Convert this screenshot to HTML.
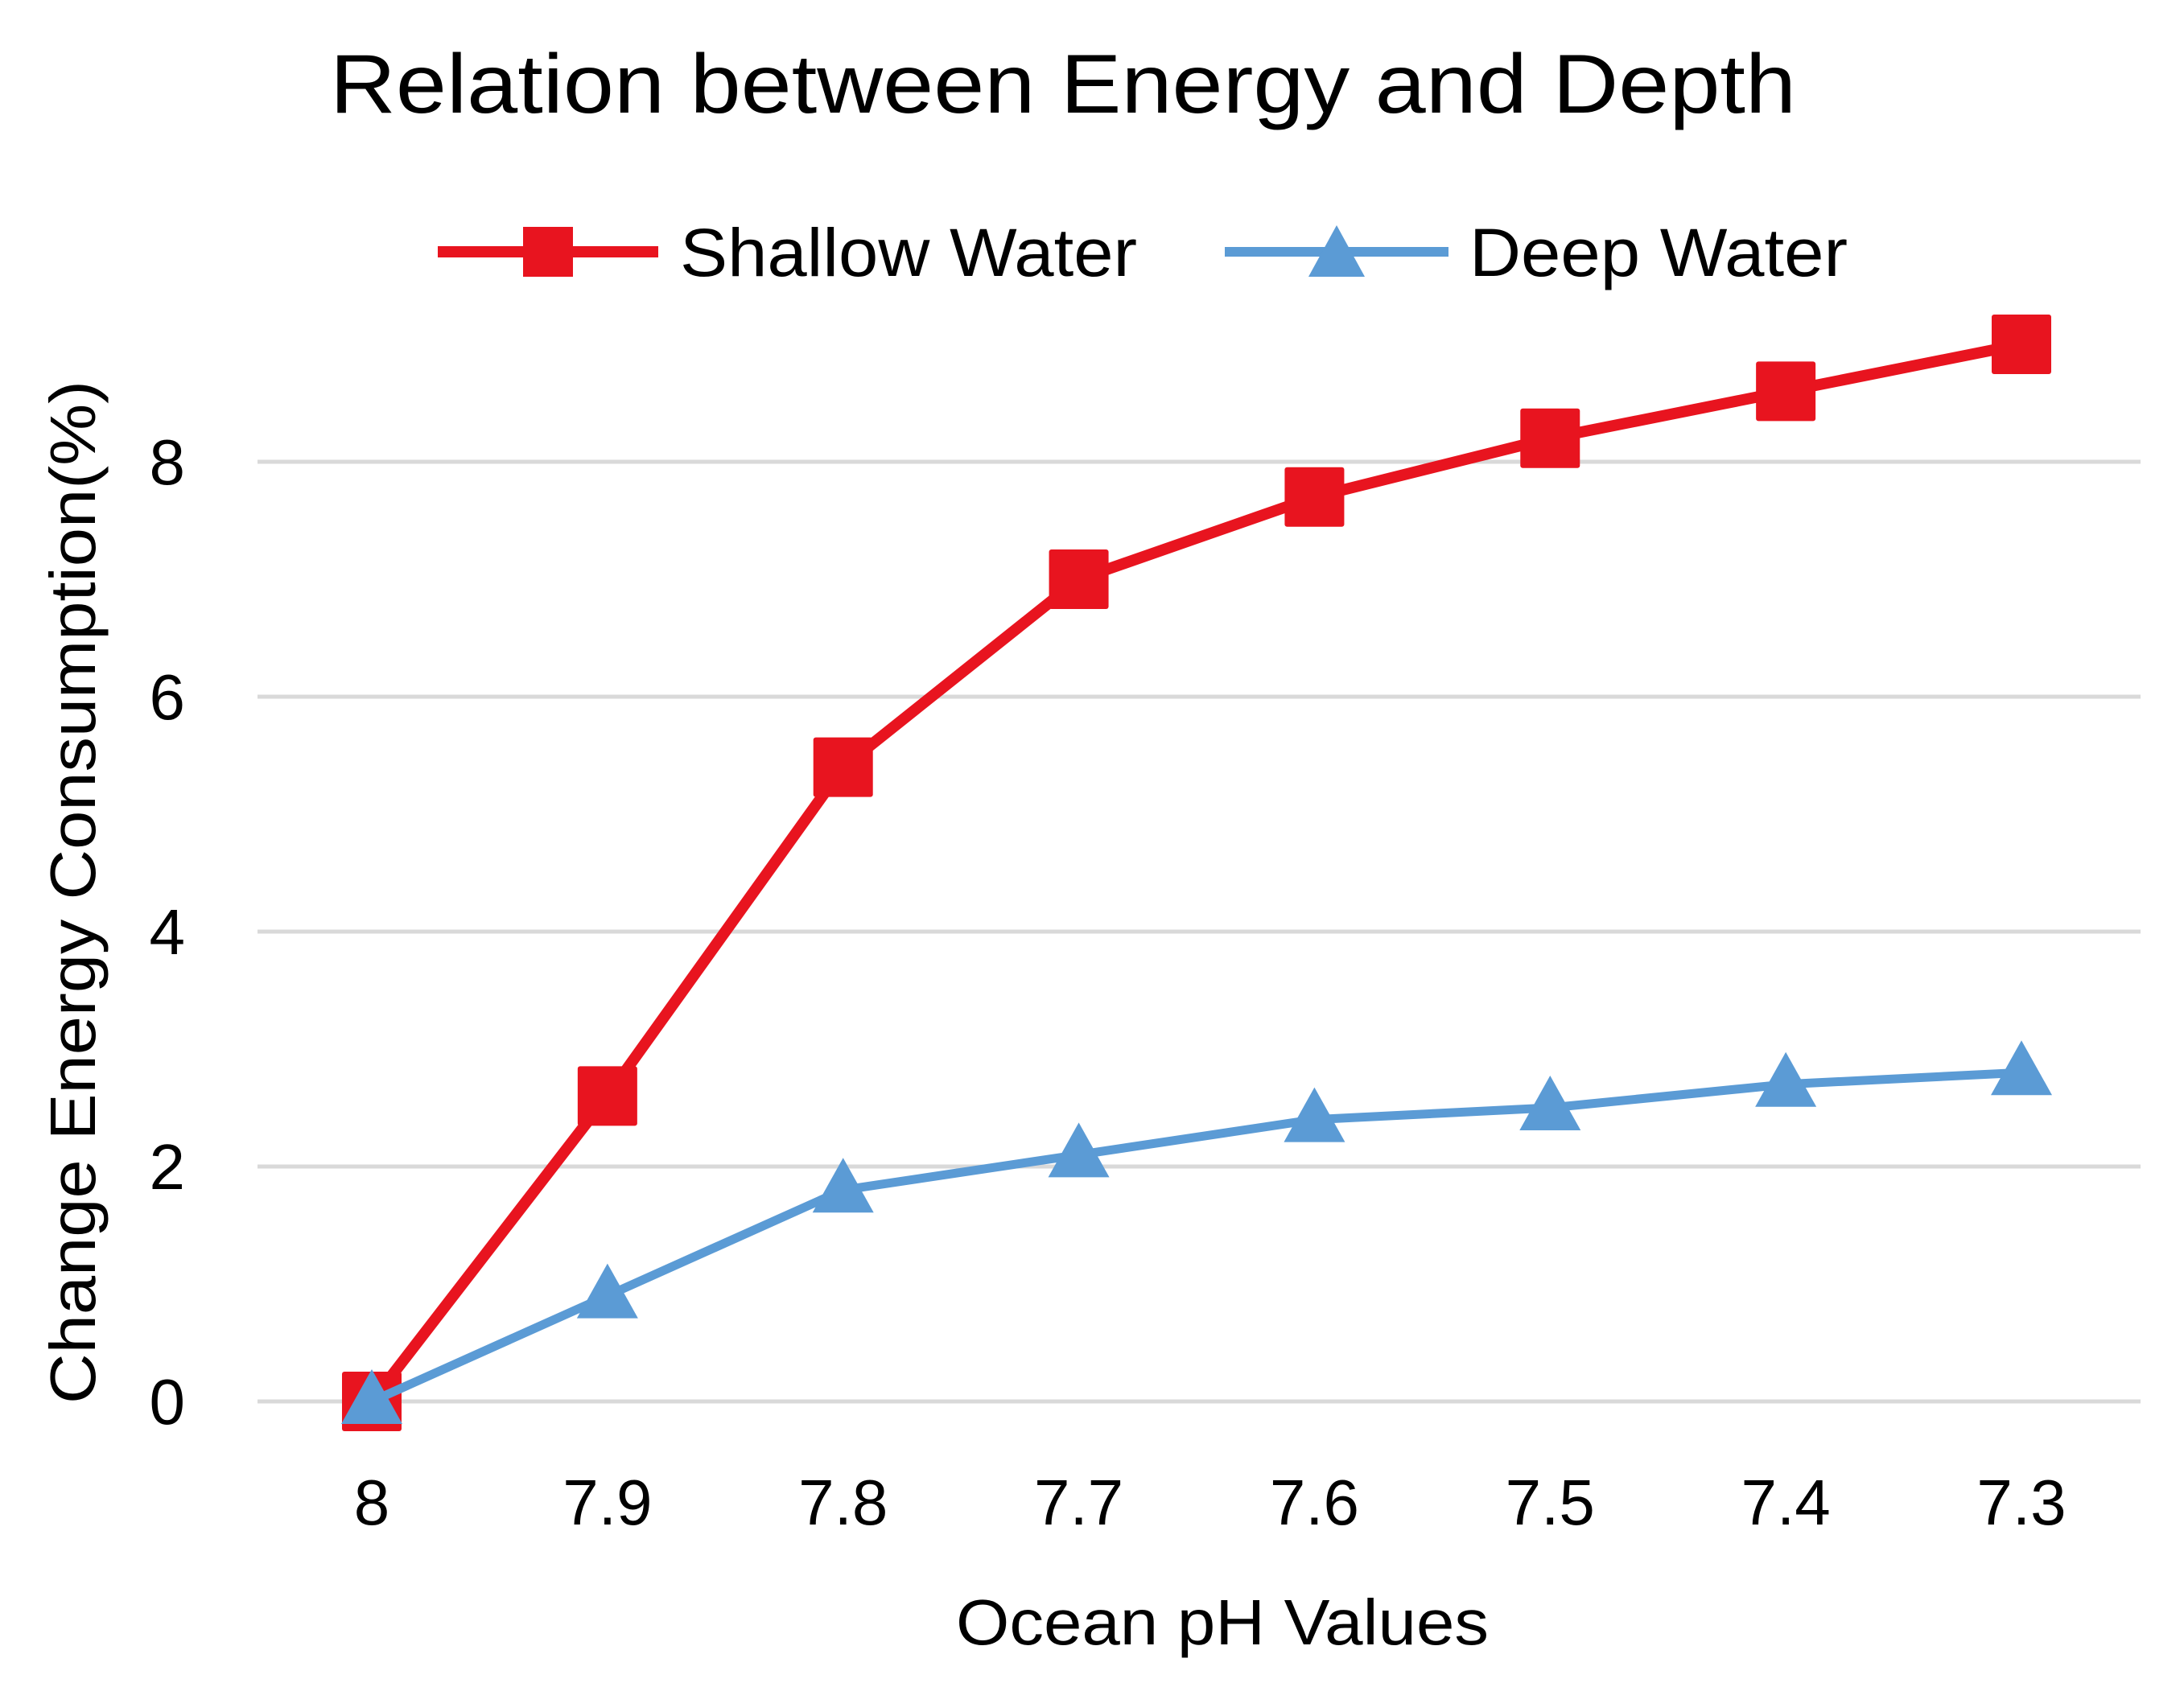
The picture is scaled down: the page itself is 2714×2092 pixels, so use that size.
<!DOCTYPE html>
<html><head><meta charset="utf-8"><style>
html,body{margin:0;padding:0;background:#fff;}
svg{display:block;}
text{font-family:"Liberation Sans",sans-serif;fill:#000;}
</style></head><body>
<svg id="chart" width="2714" height="2092" viewBox="0 0 2714 2092" xmlns="http://www.w3.org/2000/svg">
<text x="410" y="140" font-size="104" textLength="1822" lengthAdjust="spacingAndGlyphs">Relation between Energy and Depth</text>
<g>
<g>
<line x1="544" y1="313" x2="818" y2="313" stroke="#e8141f" stroke-width="14"/>
<rect x="650" y="282" width="62" height="62" fill="#e8141f"/>
<text x="845" y="343" font-size="84" textLength="568" lengthAdjust="spacingAndGlyphs">Shallow Water</text>
</g>
<g>
<line x1="1522" y1="313" x2="1800" y2="313" stroke="#5b9bd5" stroke-width="12"/>
<polygon points="1661,280 1696,344 1626,344" fill="#5b9bd5"/>
<text x="1826" y="343" font-size="84" textLength="470" lengthAdjust="spacingAndGlyphs">Deep Water</text>
</g>
</g>
<g id="grid"></g>
<g id="yticks"></g>
<g id="xticks"></g>
<g id="series"></g>
<text x="1519" y="2044" font-size="80" text-anchor="middle" textLength="662" lengthAdjust="spacingAndGlyphs">Ocean pH Values</text>
<text x="0" y="0" font-size="80" text-anchor="middle" textLength="1272" lengthAdjust="spacingAndGlyphs" transform="translate(118,1109) rotate(-90)">Change Energy Consumption(%)</text>
</svg>
<script>
const categories = ["8","7.9","7.8","7.7","7.6","7.5","7.4","7.3"];
const shallowValues = [0, 2.6, 5.4, 7.0, 7.7, 8.2, 8.6, 9.0];
const deepValues = [0, 0.9, 1.8, 2.1, 2.4, 2.5, 2.7, 2.8];
const yTicks = [0, 2, 4, 6, 8];

const NS = "http://www.w3.org/2000/svg";
function xPos(i){ return 462 + i * (2512 - 462) / (categories.length - 1); }
function yPos(v){ return 1742 - v * (1742 - 574) / 8; }
function mk(tag, attrs, parent){ const e = document.createElementNS(NS, tag); for (const k in attrs) e.setAttribute(k, attrs[k]); parent.appendChild(e); return e; }

const grid = document.getElementById('grid');
const yt = document.getElementById('yticks');
yTicks.forEach(v => {
  const l = mk('line', {x1: 320, x2: 2660, y1: yPos(v), y2: yPos(v), stroke: '#d9d9d9', 'stroke-width': 5}, grid);
  
  
  const t = mk('text', {x: 230, y: yPos(v) + 28, 'font-size': 80, 'text-anchor': 'end'}, yt);
  t.textContent = v;
  
  
});
const xt = document.getElementById('xticks');
categories.forEach((c, i) => {
  const t = mk('text', {x: xPos(i), y: 1895, 'font-size': 80, 'text-anchor': 'middle'}, xt);
  t.textContent = c;
  
  
});
const series = document.getElementById('series');
const sg = mk('g', {}, series);


const sl = mk('polyline', {points: shallowValues.map((v, i) => xPos(i) + ',' + yPos(v)).join(' '), fill: 'none', stroke: '#e8141f', 'stroke-width': 14, 'stroke-linejoin': 'round'}, sg);


shallowValues.forEach((v, i) => {
  const r = mk('rect', {x: xPos(i) - 37, y: yPos(v) - 37, width: 74, height: 74, rx: 3, fill: '#e8141f'}, sg);
  
  
});
const dg = mk('g', {}, series);


const dl = mk('polyline', {points: deepValues.map((v, i) => xPos(i) + ',' + yPos(v)).join(' '), fill: 'none', stroke: '#5b9bd5', 'stroke-width': 11, 'stroke-linejoin': 'round'}, dg);


deepValues.forEach((v, i) => {
  const x = xPos(i), y = yPos(v);
  const p = mk('polygon', {points: x + ',' + (y - 40) + ' ' + (x + 38) + ',' + (y + 28) + ' ' + (x - 38) + ',' + (y + 28), fill: '#5b9bd5'}, dg);
  
  
});
</script>
</body></html>
